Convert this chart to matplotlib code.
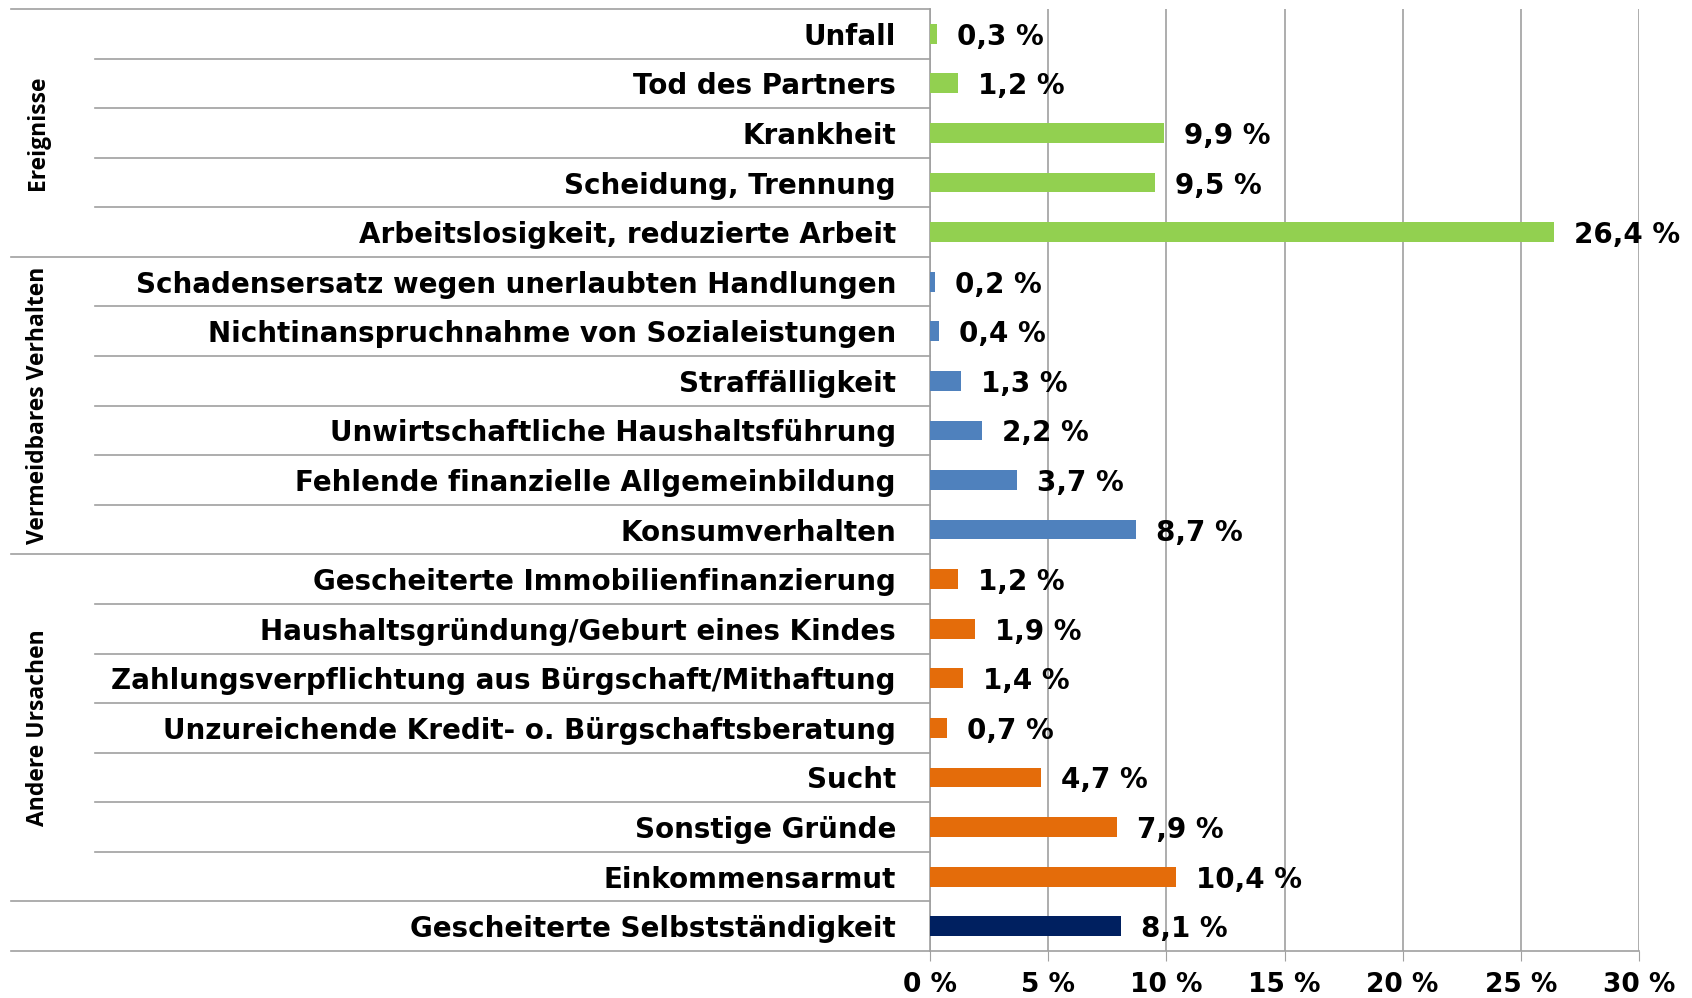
import matplotlib.pyplot as plt

categories = [
    "Unfall",
    "Tod des Partners",
    "Krankheit",
    "Scheidung, Trennung",
    "Arbeitslosigkeit, reduzierte Arbeit",
    "Schadensersatz wegen unerlaubten Handlungen",
    "Nichtinanspruchnahme von Sozialeistungen",
    "Straffälligkeit",
    "Unwirtschaftliche Haushaltsführung",
    "Fehlende finanzielle Allgemeinbildung",
    "Konsumverhalten",
    "Gescheiterte Immobilienfinanzierung",
    "Haushaltsgründung/Geburt eines Kindes",
    "Zahlungsverpflichtung aus Bürgschaft/Mithaftung",
    "Unzureichende Kredit- o. Bürgschaftsberatung",
    "Sucht",
    "Sonstige Gründe",
    "Einkommensarmut",
    "Gescheiterte Selbstständigkeit",
]
values = [0.3, 1.2, 9.9, 9.5, 26.4,
          0.2, 0.4, 1.3, 2.2, 3.7, 8.7,
          1.2, 1.9, 1.4, 0.7, 4.7, 7.9, 10.4,
          8.1]
groups = ["Ereignisse", "Vermeidbares Verhalten", "Andere Ursachen"]
group_sizes = [5, 6, 7]
group_colors = ["#92D050", "#4F81BD", "#E46C0A"]
last_color = "#002060"
xticks = [0, 5, 10, 15, 20, 25, 30]

wide_font = "DejaVu Sans"
narrow_font = "Open Sans"

colors = []
for c, n in zip(group_colors, group_sizes):
    colors += [c] * n
colors.append(last_color)

W, H = 1692, 998
fig = plt.figure(figsize=(W / 100, H / 100), dpi=100)
left, right, top, bottom = 930, 1639, 9, 951
ax = fig.add_axes([left / W, 1 - bottom / H, (right - left) / W, (bottom - top) / H])

y = list(range(len(categories)))
ax.barh(y, values, height=0.4, color=colors, zorder=3)
ax.set_ylim(len(categories) - 0.5, -0.5)
ax.set_xlim(0, 30)

ax.set_xticks(xticks)
ax.set_xticklabels([f"{t} %" for t in xticks], fontsize=19, fontweight="bold",
                   family=wide_font)
ax.tick_params(axis="x", length=7, color="#A0A0A0", pad=8)
ax.set_yticks(y)
ax.set_yticklabels(categories, fontsize=20, fontweight="bold", family=wide_font)
ax.tick_params(axis="y", length=0, pad=24.5)

ax.grid(axis="x", color="#A0A0A0", linewidth=1.2, zorder=0)
for s in ["top", "right", "bottom"]:
    ax.spines[s].set_visible(False)
ax.spines["left"].set_color("#A0A0A0")
ax.spines["left"].set_linewidth(1.2)

# value labels
for yi, v in zip(y, values):
    ax.annotate(f"{v:.1f} %".replace(".", ","), (v, yi), xytext=(20, 0),
                textcoords="offset pixels", va="center_baseline", ha="left",
                fontsize=20, fontweight="bold", family=wide_font)

# row separators
tr = ax.get_yaxis_transform()
ax_w = right - left
x_cat = (95 - left) / ax_w
x_grp = (11 - left) / ax_w
group_edges = [0]
for n in group_sizes:
    group_edges.append(group_edges[-1] + n)
group_edges.append(len(categories))
for k in range(len(categories) + 1):
    x0 = x_grp if k in group_edges else x_cat
    ax.plot([x0, 0], [k - 0.5, k - 0.5], transform=tr, color="#A0A0A0",
            linewidth=1.2, clip_on=False)
ax.plot([0, 1], [len(categories) - 0.5] * 2, transform=tr, color="#A0A0A0",
        linewidth=1.2, clip_on=False)

# group labels
x_lab = (38 - left) / ax_w
for g, a, b in zip(groups, group_edges[:-2], group_edges[1:-1]):
    ax.text(x_lab, (a + b - 1) / 2, g, transform=tr, rotation=90,
            ha="center", va="center", fontsize=16.5, fontweight="bold",
            family=narrow_font)

fig.savefig("out.png", dpi=100)
